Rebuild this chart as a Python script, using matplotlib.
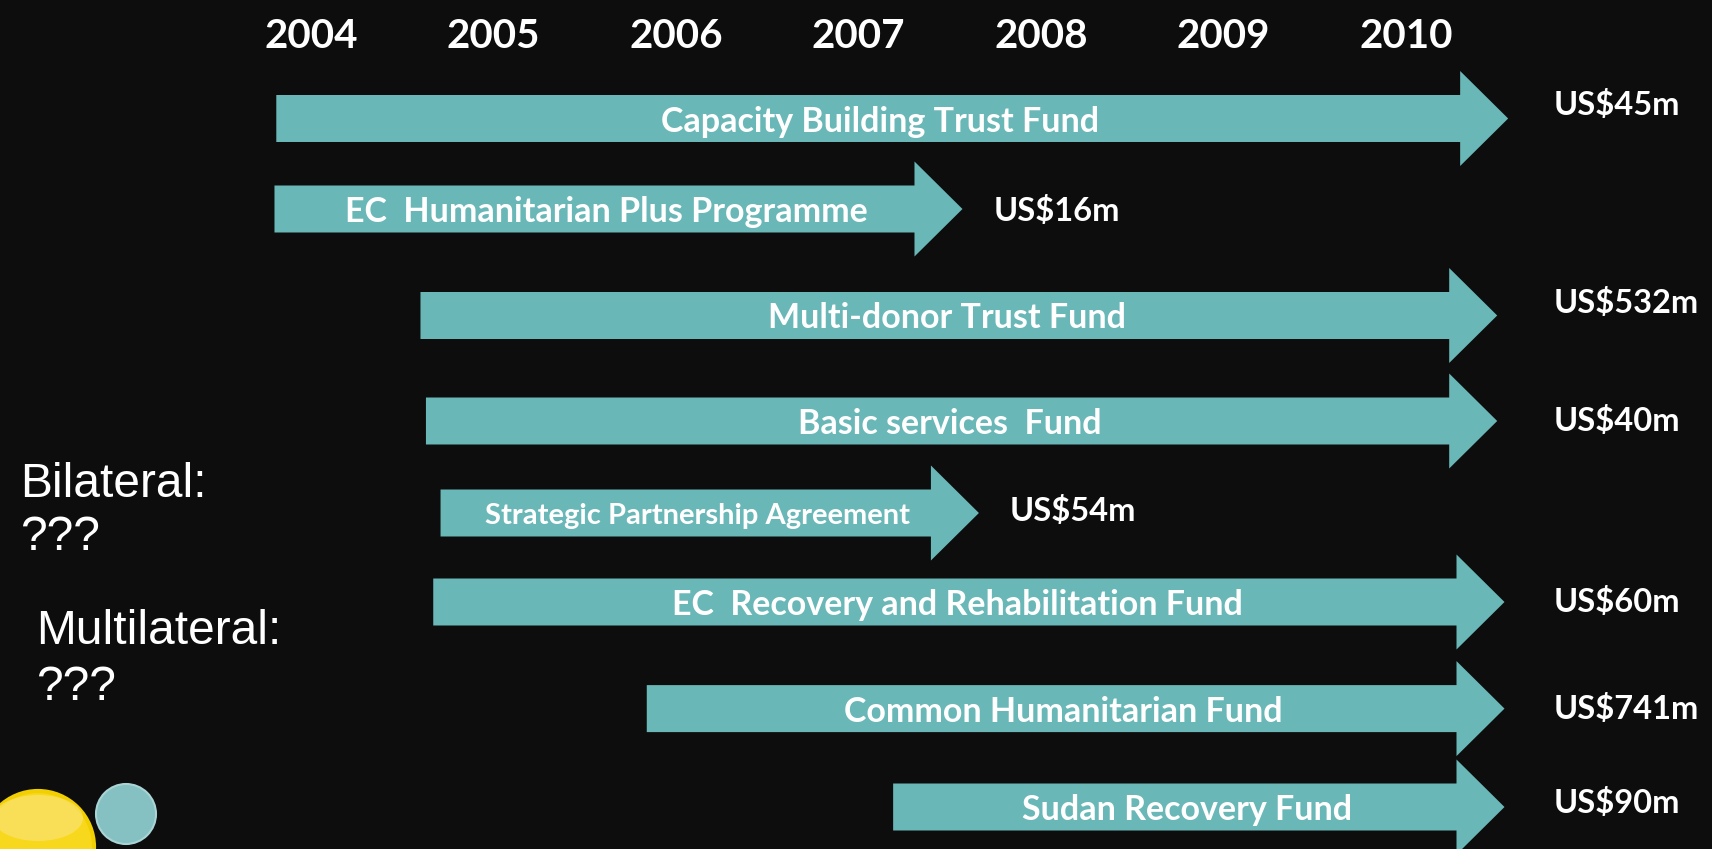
import numpy as np
import matplotlib
matplotlib.use('Agg')
import matplotlib.pyplot as plt
from matplotlib.patches import Polygon, Circle, Ellipse

# Funding instruments (start / end of arrow in years) and amounts
funds = ['Capacity Building Trust Fund', 'EC  Humanitarian Plus Programme',
         'Multi-donor Trust Fund', 'Basic services  Fund',
         'Strategic Partnership Agreement', 'EC  Recovery and Rehabilitation Fund',
         'Common Humanitarian Fund', 'Sudan Recovery Fund']
start_year = [2003.81, 2003.80, 2004.60, 2004.63, 2004.71, 2004.67, 2005.84, 2007.19]
end_year = [2010.56, 2007.57, 2010.50, 2010.50, 2007.66, 2010.54, 2010.54, 2010.54]
amounts = ['US$45m', 'US$16m', 'US$532m', 'US$40m', 'US$54m', 'US$60m', 'US$741m', 'US$90m']
years = [2004, 2005, 2006, 2007, 2008, 2009, 2010]

# layout: vertical centre of each row and nudge of the amount label (pixels)
row_y = [118.5, 209, 315.5, 421, 513, 602, 708.6, 807]
amount_dy = [-14, 2, -12, 0, -2, 0, 0, -4]

bg = '#0d0d0d'
teal = '#6ab7b8'

fig = plt.figure(figsize=(17.12, 8.49), dpi=100, facecolor=bg)
ax = fig.add_axes([0, 0, 1, 1])
ax.set_facecolor(bg)
ax.set_xlim(2002.296, 2011.677)
ax.set_ylim(849, 0)
ax.axis('off')

body_h = 23.5
head_h = 47.5
head_len = 0.263

# year header
for yr in years:
    ax.text(yr, 36, str(yr), color='white', fontsize=29, fontweight='bold',
            family='Lato', ha='center', va='center')

for name, x0, x1, amt, y, dy in zip(funds, start_year, end_year, amounts, row_y, amount_dy):
    xb = x1 - head_len
    pts = [(x0, y - body_h), (xb, y - body_h), (xb, y - head_h), (x1, y),
           (xb, y + head_h), (xb, y + body_h), (x0, y + body_h)]
    ax.add_patch(Polygon(pts, closed=True, facecolor=teal, edgecolor='none'))
    fs = 21 if name.startswith('Strategic') else 24.5
    ax.text((x0 + x1) / 2 - 0.065, y + 3, name, color='white', fontsize=fs,
            fontweight='bold', family='Lato', ha='center', va='center')
    lx = 2010.81 if x1 > 2010 else x1 + 0.17
    ax.text(lx, y + dy, amt, color='white', fontsize=23.5, fontweight='bold',
            family='Lato', ha='left', va='center')

# side notes
side = dict(color='white', fontsize=34.5, family='Liberation Sans', ha='left', va='center')
fig.text(20 / 1712, 1 - 484 / 849, 'Bilateral:', **side)
fig.text(20 / 1712, 1 - 537 / 849, '???', **side)
fig.text(36 / 1712, 1 - 631 / 849, 'Multilateral:', **side)
fig.text(36 / 1712, 1 - 688 / 849, '???', **side)

# decorative circles bottom left (pixel coords)
px = fig.dpi_scale_trans
fig.patches.append(Circle((38 / 100, (849 - 847) / 100), 56 / 100, transform=px,
                          facecolor='#f8d81c', edgecolor='#f2cf00', linewidth=3))
fig.patches.append(Ellipse((38 / 100, (849 - 818) / 100), 90 / 100, 46 / 100, transform=px,
                           facecolor='#fbe58a', edgecolor='none', alpha=0.55))
fig.patches.append(Circle((126 / 100, (849 - 814) / 100), 30 / 100, transform=px,
                          facecolor='#85c0c2', edgecolor='#a9d4d5', linewidth=1.5))

fig.savefig('out.png', dpi=100, facecolor=bg)
